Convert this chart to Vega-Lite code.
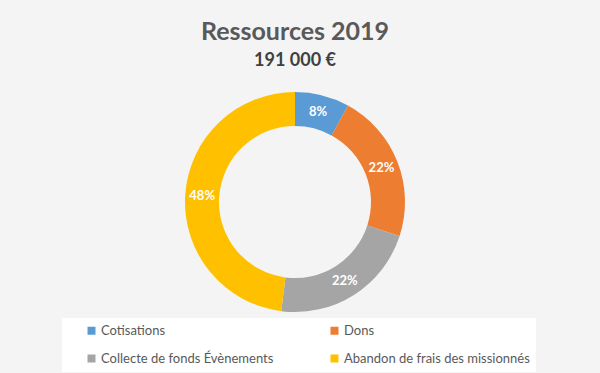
{
  "$schema": "https://vega.github.io/schema/vega-lite/v6.json",
  "width": 590,
  "height": 244,
  "autosize": {"type": "none"},
  "padding": {"left": 0, "top": 80, "right": 10, "bottom": 49},
  "background": "#f4f4f4",
  "title": {
    "text": "Ressources 2019",
    "subtitle": "191 000 €",
    "anchor": "middle",
    "font": "Lato",
    "fontSize": 25,
    "fontWeight": "bold",
    "color": "#595959",
    "subtitleFont": "Lato",
    "subtitleFontSize": 18,
    "subtitleFontWeight": "bold",
    "subtitleColor": "#404040",
    "subtitlePadding": 7,
    "offset": 10
  },
  "data": {
    "values": [
      {"categorie": "Cotisations", "part": 8, "etiquette": "8%", "ordre": 1},
      {"categorie": "Dons", "part": 22, "etiquette": "22%", "ordre": 2},
      {"categorie": "Collecte de fonds Évènements", "part": 22, "etiquette": "22%", "ordre": 3},
      {"categorie": "Abandon de frais des missionnés", "part": 48, "etiquette": "48%", "ordre": 4}
    ]
  },
  "encoding": {
    "theta": {"field": "part", "type": "quantitative", "stack": true},
    "order": {"field": "ordre", "type": "quantitative"}
  },
  "layer": [
    {
      "mark": {"type": "arc", "radius": 110, "radius2": 76, "stroke": null},
      "encoding": {
        "color": {
          "field": "categorie",
          "type": "nominal",
          "sort": ["Cotisations", "Dons", "Collecte de fonds Évènements", "Abandon de frais des missionnés"],
          "scale": {
            "domain": ["Cotisations", "Dons", "Collecte de fonds Évènements", "Abandon de frais des missionnés"],
            "range": ["#5B9BD5", "#ED7D31", "#A5A5A5", "#FFC000"]
          },
          "legend": {
            "title": null,
            "orient": "none",
            "legendX": 62,
            "legendY": 238,
            "direction": "horizontal",
            "columns": 2,
            "symbolType": "square",
            "symbolSize": 64,
            "symbolStrokeWidth": 0,
            "symbolOffset": 17,
            "labelOffset": 3,
            "labelFont": "Lato",
            "labelFontSize": 13,
            "labelColor": "#595959",
            "labelLimit": 300,
            "columnPadding": 37,
            "rowPadding": 14,
            "padding": 6,
            "fillColor": "#ffffff"
          }
        }
      }
    },
    {
      "mark": {"type": "text", "radius": 93, "font": "Lato", "fontWeight": "bold", "fontSize": 13, "fill": "#ffffff"},
      "encoding": {
        "text": {"field": "etiquette", "type": "nominal"}
      }
    }
  ],
  "config": {"view": {"stroke": null}}
}
